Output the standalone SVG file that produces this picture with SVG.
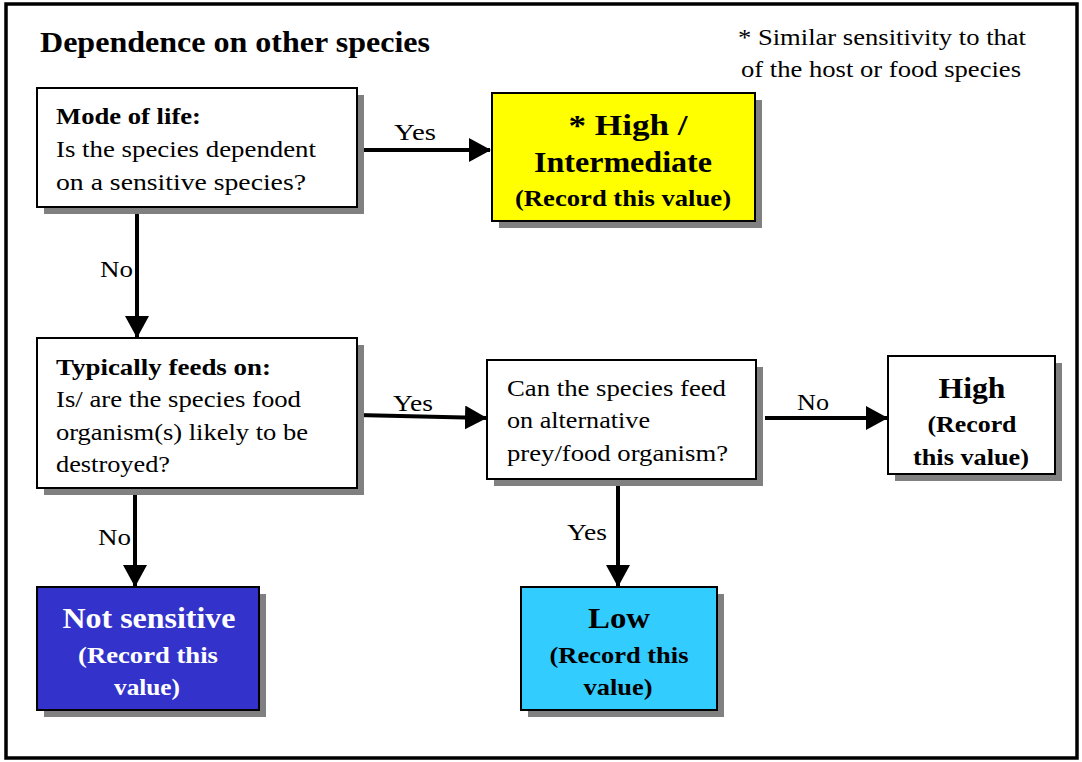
<svg xmlns="http://www.w3.org/2000/svg" width="1082" height="762" viewBox="0 0 1082 762">
  <defs>
    <marker id="arrow" viewBox="0 0 22 24" refX="21" refY="12" markerWidth="22" markerHeight="24" markerUnits="userSpaceOnUse" orient="auto">
      <path d="M0,0 L22,12 L0,24 z" fill="#000"/>
    </marker>
  </defs>

  <!-- page frame -->
  <rect x="0" y="0" width="1082" height="762" fill="#fff"/>
  <rect x="6" y="4" width="1071" height="754" fill="none" stroke="#000" stroke-width="3.5"/>

  <g font-family="Liberation Serif" fill="#000" lengthAdjust="spacingAndGlyphs">
    <text x="40" y="52" font-size="29" font-weight="bold" textLength="390" lengthAdjust="spacingAndGlyphs">Dependence on other species</text>
    <g id="note" font-size="24" text-anchor="middle">
      <text x="882" y="45" textLength="288" lengthAdjust="spacingAndGlyphs">* Similar sensitivity to that</text>
      <text x="881" y="77" textLength="280" lengthAdjust="spacingAndGlyphs">of the host or food species</text>
    </g>

    <!-- connectors with their answer labels -->
    <g id="connectors">
      <g stroke="#000" stroke-width="4" fill="none" marker-end="url(#arrow)">
        <line x1="360" y1="150" x2="490" y2="150"/>
        <line x1="137" y1="208" x2="137" y2="337"/>
        <line x1="357" y1="415" x2="486" y2="418"/>
        <line x1="765" y1="418" x2="887" y2="418"/>
        <line x1="135" y1="490" x2="135" y2="586"/>
        <line x1="618" y1="484" x2="618" y2="586"/>
      </g>
      <g font-size="23">
        <text x="394" y="140" textLength="42" lengthAdjust="spacingAndGlyphs">Yes</text>
        <text x="100" y="277" textLength="33" lengthAdjust="spacingAndGlyphs">No</text>
        <text x="393" y="411" textLength="40" lengthAdjust="spacingAndGlyphs">Yes</text>
        <text x="797" y="410" textLength="32" lengthAdjust="spacingAndGlyphs">No</text>
        <text x="98" y="545" textLength="33" lengthAdjust="spacingAndGlyphs">No</text>
        <text x="567" y="540" textLength="40" lengthAdjust="spacingAndGlyphs">Yes</text>
      </g>
    </g>

    <g id="mode-of-life" font-size="23">
      <rect x="44" y="95" width="320" height="119" fill="#808080"/>
      <rect x="37" y="88" width="320" height="119" fill="#fff" stroke="#000" stroke-width="2"/>
      <text x="56" y="124" font-weight="bold" textLength="145" lengthAdjust="spacingAndGlyphs">Mode of life:</text>
      <text x="56" y="157" textLength="260" lengthAdjust="spacingAndGlyphs">Is the species dependent</text>
      <text x="56" y="190" textLength="250" lengthAdjust="spacingAndGlyphs">on a sensitive species?</text>
    </g>

    <g id="high-intermediate" font-weight="bold" text-anchor="middle">
      <rect x="499" y="100" width="263" height="128" fill="#808080"/>
      <rect x="492" y="93" width="263" height="128" fill="#ffff00" stroke="#000" stroke-width="2"/>
      <text x="628" y="135" font-size="29" textLength="119" lengthAdjust="spacingAndGlyphs">* High /</text>
      <text x="623" y="172" font-size="29" textLength="178" lengthAdjust="spacingAndGlyphs">Intermediate</text>
      <text x="623" y="206" font-size="23" textLength="216" lengthAdjust="spacingAndGlyphs">(Record this value)</text>
    </g>

    <g id="typically-feeds-on" font-size="23">
      <rect x="44" y="345" width="320" height="150" fill="#808080"/>
      <rect x="37" y="338" width="320" height="150" fill="#fff" stroke="#000" stroke-width="2"/>
      <text x="56" y="375" font-weight="bold" textLength="215" lengthAdjust="spacingAndGlyphs">Typically feeds on:</text>
      <text x="56" y="407" textLength="245" lengthAdjust="spacingAndGlyphs">Is/ are the species food</text>
      <text x="56" y="440" textLength="252" lengthAdjust="spacingAndGlyphs">organism(s) likely to be</text>
      <text x="56" y="472" textLength="114" lengthAdjust="spacingAndGlyphs">destroyed?</text>
    </g>

    <g id="alternative-prey" font-size="23">
      <rect x="494" y="367" width="269" height="119" fill="#808080"/>
      <rect x="487" y="360" width="269" height="119" fill="#fff" stroke="#000" stroke-width="2"/>
      <text x="507" y="396" textLength="219" lengthAdjust="spacingAndGlyphs">Can the species feed</text>
      <text x="507" y="428" textLength="143" lengthAdjust="spacingAndGlyphs">on alternative</text>
      <text x="507" y="461" textLength="221" lengthAdjust="spacingAndGlyphs">prey/food organism?</text>
    </g>

    <g id="high" font-weight="bold" text-anchor="middle">
      <rect x="895" y="363" width="167" height="118" fill="#808080"/>
      <rect x="888" y="356" width="167" height="118" fill="#fff" stroke="#000" stroke-width="2"/>
      <text x="972" y="398" font-size="29" textLength="67" lengthAdjust="spacingAndGlyphs">High</text>
      <text x="972" y="432" font-size="23" textLength="89" lengthAdjust="spacingAndGlyphs">(Record</text>
      <text x="971" y="465" font-size="23" textLength="116" lengthAdjust="spacingAndGlyphs">this value)</text>
    </g>

    <g id="not-sensitive" font-weight="bold" text-anchor="middle">
      <rect x="44" y="594" width="222" height="123" fill="#808080"/>
      <rect x="37" y="587" width="222" height="123" fill="#3333cc" stroke="#000" stroke-width="2"/>
      <text x="149" y="628" font-size="29" fill="#fff" textLength="173" lengthAdjust="spacingAndGlyphs">Not sensitive</text>
      <text x="148" y="663" font-size="23" fill="#fff" textLength="140" lengthAdjust="spacingAndGlyphs">(Record this</text>
      <text x="147" y="695" font-size="23" fill="#fff" textLength="66" lengthAdjust="spacingAndGlyphs">value)</text>
    </g>

    <g id="low" font-weight="bold" text-anchor="middle">
      <rect x="528" y="594" width="196" height="123" fill="#808080"/>
      <rect x="521" y="587" width="196" height="123" fill="#33ccff" stroke="#000" stroke-width="2"/>
      <text x="619" y="628" font-size="29" textLength="62" lengthAdjust="spacingAndGlyphs">Low</text>
      <text x="619" y="663" font-size="23" textLength="139" lengthAdjust="spacingAndGlyphs">(Record this</text>
      <text x="618" y="695" font-size="23" textLength="69" lengthAdjust="spacingAndGlyphs">value)</text>
    </g>
  </g>
</svg>
